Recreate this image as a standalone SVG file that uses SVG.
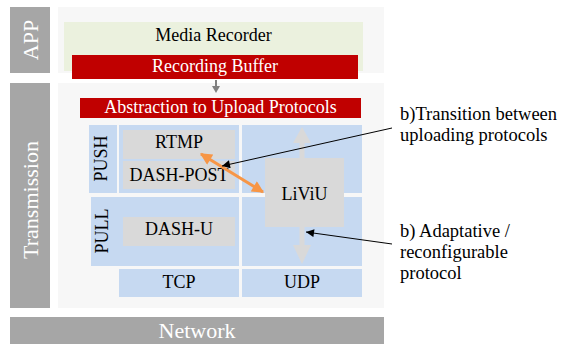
<svg xmlns="http://www.w3.org/2000/svg" width="569" height="345" viewBox="0 0 569 345">
  <style>
    text { font-family: "Liberation Serif", "Times New Roman", "DejaVu Serif", serif; }
    .panel { fill: #F7F7F7; }
    .side { fill: #A6A6A6; }
    .side-t { fill: #FFFFFF; font-size: 22px; text-anchor: middle; }
    .red { fill: #C00000; }
    .red-t { fill: #FFFFFF; font-size: 18px; text-anchor: middle; }
    .blue { fill: #C6D9F1; }
    .grey { fill: #D9D9D9; }
    .lbl { fill: #000000; font-size: 18px; text-anchor: middle; }
    .note { fill: #000000; font-size: 18.5px; }
    .ptr { stroke: #000000; stroke-width: 1; fill: none; marker-end: url(#blackHead); }
    .swap { stroke: #F79646; stroke-width: 3; fill: none; marker-start: url(#orangeHead); marker-end: url(#orangeHead); }
  </style>
  <defs>
    <marker id="blackHead" viewBox="0 0 10 10" refX="10" refY="5" markerWidth="10" markerHeight="8" markerUnits="userSpaceOnUse" orient="auto">
      <path d="M0,0 L10,5 L0,10 z" fill="#000000"/>
    </marker>
    <marker id="orangeHead" viewBox="0 0 10 10" refX="9" refY="5" markerWidth="13" markerHeight="12" markerUnits="userSpaceOnUse" orient="auto-start-reverse">
      <path d="M0,0 L10,5 L0,10 z" fill="#F79646"/>
    </marker>
  </defs>

  <!-- Application layer -->
  <g id="app-layer">
    <rect class="panel" x="58" y="7" width="326" height="66"/>
    <rect class="side" x="10" y="7" width="40" height="66"/>
    <text class="side-t" transform="translate(38,40) rotate(-90)">APP</text>
  </g>
  <g id="media-recorder">
    <rect x="64" y="22" width="299" height="49" fill="#EBF1DE"/>
    <text class="lbl" x="213.5" y="41">Media Recorder</text>
  </g>
  <g id="recording-buffer">
    <rect class="red" x="72" y="55" width="286" height="24"/>
    <text class="red-t" x="215" y="72">Recording Buffer</text>
  </g>

  <!-- Transmission layer -->
  <g id="transmission-layer">
    <rect class="panel" x="58" y="83" width="326" height="225"/>
    <rect class="side" x="10" y="83" width="40" height="225"/>
    <text class="side-t" transform="translate(38,200) rotate(-90)">Transmission</text>
  </g>
  <g id="abstraction">
    <rect class="red" x="80" y="98" width="281" height="20"/>
    <text class="red-t" x="220.5" y="113">Abstraction to Upload Protocols</text>
  </g>
  <g id="push">
    <rect class="blue" x="89" y="125" width="28" height="68"/>
    <rect class="blue" x="119" y="125" width="120" height="68"/>
    <text class="lbl" transform="translate(107,158.5) rotate(-90)">PUSH</text>
  </g>
  <g id="rtmp">
    <rect class="grey" x="123" y="130" width="112" height="29"/>
    <text class="lbl" x="179" y="148">RTMP</text>
  </g>
  <g id="dash-post">
    <rect class="grey" x="123" y="161" width="112" height="28"/>
    <text class="lbl" x="179" y="181">DASH-POST</text>
  </g>
  <g id="pull">
    <rect class="blue" x="91" y="197" width="148" height="69"/>
    <text class="lbl" transform="translate(108,231) rotate(-90)">PULL</text>
  </g>
  <g id="dash-u">
    <rect class="grey" x="123" y="217" width="112" height="29"/>
    <text class="lbl" x="179" y="235">DASH-U</text>
  </g>
  <g id="right-column">
    <rect class="blue" x="242" y="125" width="120" height="68"/>
    <rect class="blue" x="242" y="197" width="120" height="69"/>
  </g>
  <g id="tcp">
    <rect class="blue" x="119" y="269" width="120" height="28"/>
    <text class="lbl" x="179" y="288">TCP</text>
  </g>
  <g id="udp">
    <rect class="blue" x="242" y="269" width="120" height="28"/>
    <text class="lbl" x="302" y="288">UDP</text>
  </g>
  <g id="liviu">
    <!-- block arrows up and down out of the LiViU box -->
    <path class="grey" d="M299.5,158 L299.5,143 L293,143 L302,127 L311,143 L304.5,143 L304.5,158 z"/>
    <path class="grey" d="M299.5,227 L299.5,245 L293,245 L302,264 L311,245 L304.5,245 L304.5,227 z"/>
    <rect class="grey" x="265" y="158" width="79" height="69"/>
    <text class="lbl" x="304.5" y="200">LiViU</text>
  </g>

  <!-- Network layer -->
  <g id="network">
    <rect class="side" x="10" y="317" width="374" height="27"/>
    <text class="side-t" x="197" y="338">Network</text>
  </g>

  <!-- Annotations -->
  <g id="note-transition">
    <text class="note" x="400" y="120">b)Transition between</text>
    <text class="note" x="400" y="141">uploading protocols</text>
  </g>
  <g id="note-adaptive">
    <text class="note" x="400" y="237">b) Adaptative /</text>
    <text class="note" x="400" y="258">reconfigurable</text>
    <text class="note" x="400" y="279">protocol</text>
  </g>

  <!-- Connectors -->
  <g id="connectors">
    <line x1="216" y1="80" x2="216" y2="86" stroke="#808080" stroke-width="2"/>
    <path d="M212,86 L220,86 L216,93 z" fill="#808080"/>
    <line class="swap" x1="201" y1="154" x2="263" y2="192"/>
    <line class="ptr" x1="392" y1="128" x2="222" y2="166"/>
    <line class="ptr" x1="392" y1="244" x2="306" y2="232"/>
  </g>
</svg>
